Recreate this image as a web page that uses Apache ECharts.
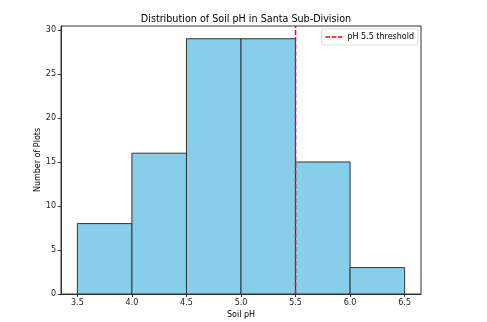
<!DOCTYPE html>
<html><head><meta charset="utf-8">
<script src="https://cdn.jsdelivr.net/npm/echarts@6/dist/echarts.min.js"></script>
<style>html,body{margin:0;padding:0;background:#fff}#c{width:487px;height:322px}</style>
</head><body><div id="c"></div>
<script>
const binStarts = [3.5, 4.0, 4.5, 5.0, 5.5, 6.0];
const binEnds = [4.0, 4.5, 5.0, 5.5, 6.0, 6.5];
const counts = [8, 16, 29, 29, 15, 3];
const xTicks = [3.5, 4.0, 4.5, 5.0, 5.5, 6.0, 6.5];
const yTicks = [0, 5, 10, 15, 20, 25, 30];
const threshold = 5.5;
const thresholdLabel = 'pH 5.5 threshold';

const font = 'DejaVu Sans';
const histData = binStarts.map((s, i) => [s, binEnds[i], counts[i]]);
const chart = echarts.init(document.getElementById('c'), null, {renderer: 'canvas'});
chart.setOption({
  animation: false,
  textStyle: {fontFamily: font},
  title: {
    text: 'Distribution of Soil pH in Santa Sub-Division',
    left: 241, top: 9, textAlign: 'center',
    textStyle: {fontFamily: font, fontSize: 9.6, fontWeight: 'normal', color: '#000'}
  },
  legend: {
    data: [{name: thresholdLabel, icon: 'path://M0,0h6v2h-6z M8,0h6v2h-6z M16,0h6v2h-6z'}],
    right: 69, top: 29,
    itemWidth: 17, itemHeight: 2, itemGap: 4,
    padding: [4, 4, 4, 4],
    borderColor: '#ddd', borderWidth: 1, borderRadius: 2,
    backgroundColor: 'rgba(255,255,255,0.8)',
    textStyle: {fontFamily: font, fontSize: 8, color: '#000'}
  },
  grid: {left: 61, right: 66, top: 26, bottom: 28, outerBoundsMode: 'none', containLabel: false,
    show: true, borderColor: '#333', borderWidth: 1},
  xAxis: {
    type: 'value', min: 3.35, max: 6.65,
    name: 'Soil pH', nameLocation: 'middle', nameGap: 17, nameMoveOverlap: false,
    nameTextStyle: {fontFamily: font, fontSize: 8, color: '#000'},
    axisLine: {show: true, onZero: false, lineStyle: {color: '#333'}},
    axisTick: {show: true, length: 3, customValues: xTicks, lineStyle: {color: '#333'}},
    axisLabel: {customValues: xTicks, fontFamily: font, fontSize: 8, color: '#222', margin: 5,
      formatter: v => v.toFixed(1)},
    splitLine: {show: false}
  },
  yAxis: {
    type: 'value', min: 0, max: 30.45,
    name: 'Number of Plots', nameLocation: 'middle', nameGap: 19, nameRotate: 90, nameMoveOverlap: false,
    nameTextStyle: {fontFamily: font, fontSize: 8, color: '#000'},
    axisLine: {show: true, lineStyle: {color: '#333'}},
    axisTick: {show: true, length: 3, customValues: yTicks, lineStyle: {color: '#333'}},
    axisLabel: {customValues: yTicks, fontFamily: font, fontSize: 8, color: '#222', margin: 5},
    splitLine: {show: false}
  },
  series: [
    {
      type: 'custom', name: 'hist',
      data: histData,
      encode: {x: [0, 1], y: 2},
      renderItem: function (params, api) {
        const p0 = api.coord([api.value(0), api.value(2)]);
        const p1 = api.coord([api.value(1), 0]);
        return {
          type: 'rect',
          shape: {x: p0[0], y: p0[1], width: p1[0] - p0[0], height: p1[1] - p0[1]},
          style: {fill: '#87CEEB', stroke: '#333', lineWidth: 1}
        };
      },
      z: 2
    },
    {
      type: 'line', name: thresholdLabel,
      data: [[threshold, 0], [threshold, 30.45]],
      symbol: 'none',
      lineStyle: {color: '#ff0000', type: [5, 2], width: 1.5},
      itemStyle: {color: '#ff0000'},
      z: 5
    }
  ]
});
</script></body></html>
